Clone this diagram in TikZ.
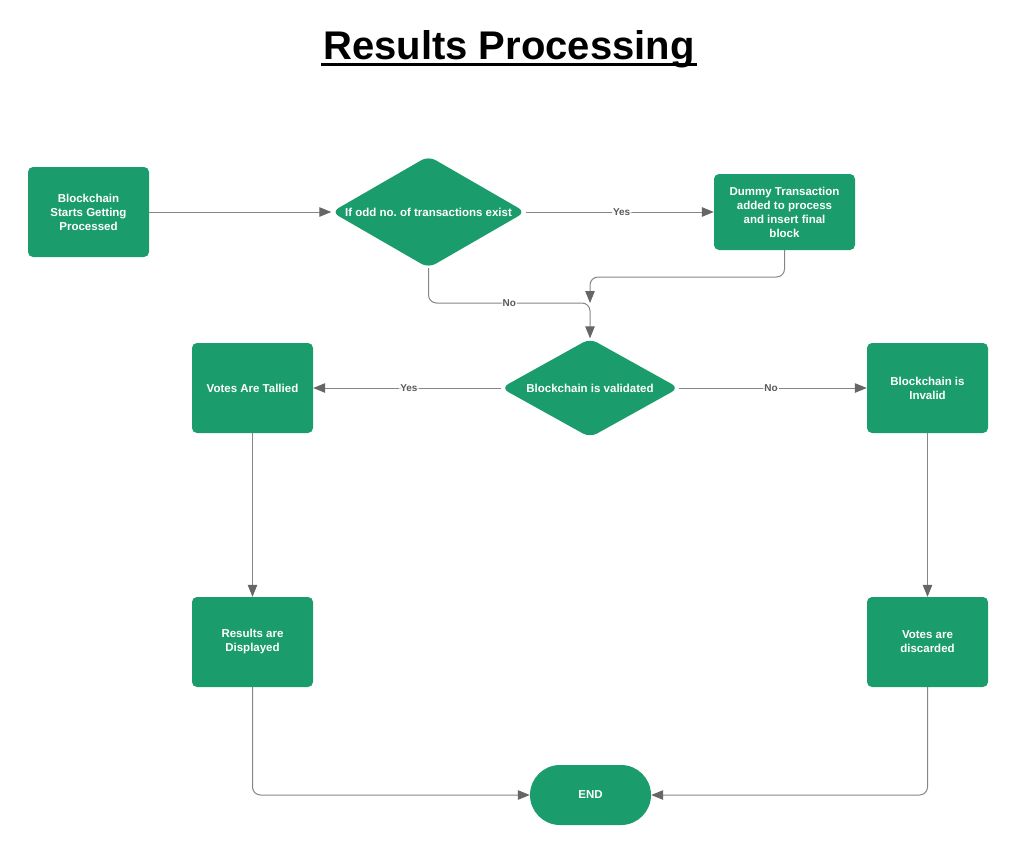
\documentclass[tikz,border=0pt]{standalone}
\usepackage{fontspec}
\setmainfont{Liberation Sans}
\usetikzlibrary{shapes.geometric,arrows.meta}
\frenchspacing
\definecolor{lgreen}{HTML}{1A9C6D}
\definecolor{lline}{HTML}{858585}
\definecolor{ltip}{HTML}{666666}
\definecolor{llab}{HTML}{5A5A5A}
\tikzset{
  box/.style={fill=lgreen, rounded corners=5pt, minimum width=121pt, minimum height=90pt, text=white, font=\fontsize{11.5}{14}\selectfont\bfseries, align=center, inner sep=2pt},
  dia/.style={diamond, fill=lgreen, rounded corners=8pt, text=white, font=\fontsize{11.5}{14}\selectfont\bfseries, align=center, inner sep=0pt},
  conn/.style={draw=lline, line width=1pt, rounded corners=8pt, -{Triangle[length=12pt,width=9.5pt,fill=ltip,color=ltip]}},
  lab/.style={fill=white, text=llab, font=\fontsize{10}{12}\selectfont\bfseries, inner sep=1pt}
}
\begin{document}
\begin{tikzpicture}[x=1pt,y=-1pt]
\useasboundingbox (0,0) rectangle (1024,856);
\node[font=\fontsize{40}{48}\selectfont\bfseries, anchor=base, inner sep=0pt] (title) at (509,60) {Results Processing};
\draw[line width=3pt] ([yshift=-4.5pt,xshift=-2pt]title.base west) -- ([yshift=-4.5pt,xshift=2pt]title.base east);

\node[box] (start) at (88.5,212) {Blockchain\\Starts Getting\\Processed};
\node[dia, shape aspect=1.72, minimum width=194pt, minimum height=112pt] (odd) at (428.5,212) {If odd no. of transactions exist};
\node[box, minimum width=141pt, minimum height=76pt] (dummy) at (784.5,212) {Dummy Transaction\\added to process\\and insert final\\block};
\node[dia, shape aspect=1.8, minimum width=178pt, minimum height=99pt] (valid) at (590,388) {Blockchain is validated};
\node[box] (tally) at (252.5,388) {Votes Are Tallied};
\node[box] (invalid) at (927.5,388) {Blockchain is\\Invalid};
\node[box] (disp) at (252.5,642) {Results are\\Displayed};
\node[box] (disc) at (927.5,642) {Votes are\\discarded};
\node[fill=lgreen, rounded corners=30pt, minimum width=121pt, minimum height=60pt, text=white, font=\fontsize{11.5}{14}\selectfont\bfseries] (end) at (590.5,795) {END};

\coordinate (merge) at (590,303);

\draw[conn] (start) -- (odd);
\draw[conn] (odd) -- node[lab, pos=0.51] {Yes} (dummy);
\draw[conn] (dummy.south) |- (590,277) -- (merge);
\draw[conn] (odd.south) |- node[lab, pos=0.75] {No} (590,303) -- (valid.north);
\draw[conn] (valid) -- node[lab, pos=0.49] {Yes} (tally);
\draw[conn] (valid) -- node[lab, pos=0.49] {No} (invalid);
\draw[conn] (tally) -- (disp);
\draw[conn] (invalid) -- (disc);
\draw[conn] (disp.south) |- (end.west);
\draw[conn] (disc.south) |- (end.east);
\end{tikzpicture}
\end{document}
